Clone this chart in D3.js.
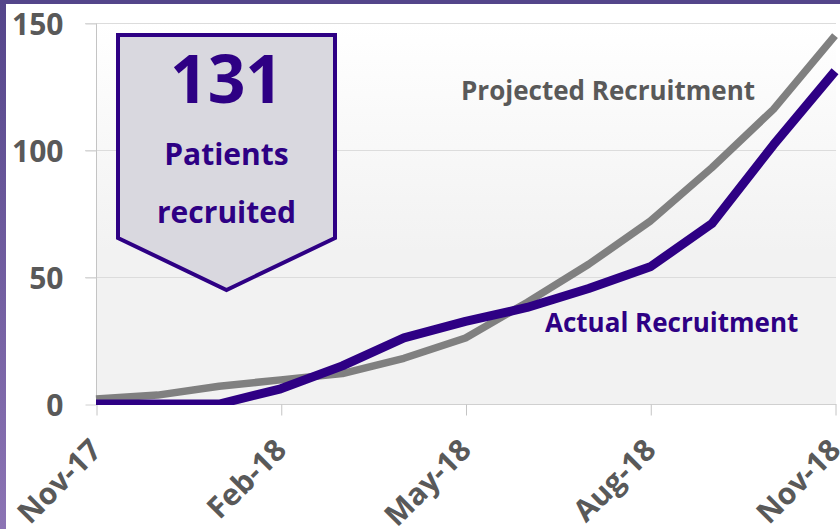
<!DOCTYPE html>
<html>
<head>
<meta charset="utf-8">
<script src="https://cdn.jsdelivr.net/npm/d3@7"></script>
<style>
  html, body { margin: 0; padding: 0; background: #fff; }
  svg { display: block; }
  text { font-family: "Open Sans", Lato, sans-serif; font-weight: bold; }
</style>
</head>
<body>
<svg id="chart" width="840" height="529"></svg>
<script>
const months = ["Nov-17","Dec-17","Jan-18","Feb-18","Mar-18","Apr-18","May-18","Jun-18","Jul-18","Aug-18","Sep-18","Oct-18","Nov-18"];
const projected = [2, 3.5, 7, 9.5, 12, 18, 26, 40, 55, 72, 93, 116, 145];
const actual = [0, 0, 0, 6, 15, 26, 32.5, 38, 45.5, 54, 71, 102, 131];
const xTickLabels = ["Nov-17","Feb-18","May-18","Aug-18","Nov-18"];
const yTicks = [0, 50, 100, 150];
const badgeNumber = "131";
const badgeLines = ["Patients", "recruited"];

const svg = d3.select("#chart");
const W = 840, H = 529;
const pLeft = 96, pRight = 835, pTop = 23, pBottom = 404;
const FONT = '"Open Sans", Lato, sans-serif';

const defs = svg.append("defs");
const fg = defs.append("linearGradient").attr("id","frame").attr("x1",0).attr("y1",0).attr("x2",0).attr("y2",1);
fg.append("stop").attr("offset","0%").attr("stop-color","#54458a");
fg.append("stop").attr("offset","100%").attr("stop-color","#8c74b4");
const pg = defs.append("linearGradient").attr("id","plotbg").attr("x1",0).attr("y1",0).attr("x2",0).attr("y2",1);
pg.append("stop").attr("offset","0%").attr("stop-color","#ffffff");
pg.append("stop").attr("offset","60%").attr("stop-color","#f2f2f2");
pg.append("stop").attr("offset","100%").attr("stop-color","#f2f2f2");
defs.append("clipPath").attr("id","clip").append("rect")
  .attr("x", pLeft - 10).attr("y", 0).attr("width", pRight - pLeft + 20).attr("height", pBottom + 1);

// frame
svg.append("rect").attr("x",0).attr("y",0).attr("width",W).attr("height",H).attr("fill","#fff");
svg.append("rect").attr("x",0).attr("y",0).attr("width",6).attr("height",H).attr("fill","url(#frame)");
svg.append("rect").attr("x",0).attr("y",0).attr("width",W).attr("height",4).attr("fill","#54458a");

const x = d3.scalePoint().domain(months).range([pLeft, pRight]);
const y = d3.scaleLinear().domain([0, 150]).range([pBottom, pTop]);

// plot background
svg.append("rect").attr("x", pLeft).attr("y", pTop).attr("width", pRight - pLeft + 1).attr("height", pBottom - pTop)
  .attr("fill", "url(#plotbg)");

// gridlines
svg.append("g").selectAll("line").data(yTicks.filter(d => d > 0)).join("line")
  .attr("x1", pLeft - 11).attr("x2", pRight + 1)
  .attr("y1", d => y(d) + 0.5).attr("y2", d => y(d) + 0.5)
  .attr("stroke", "#dcdcdc").attr("stroke-width", 1);

// y axis
const yAxis = d3.axisLeft(y).tickValues(yTicks).tickSize(11).tickPadding(22).tickFormat(d3.format("d"));
const gy = svg.append("g").attr("transform", `translate(${pLeft + 0.5},0.5)`).call(yAxis);
gy.select(".domain").attr("stroke", "#c4c4c4").attr("d", `M0,${pTop}V${pBottom}`);
gy.selectAll(".tick line").attr("stroke", "#d0d0d0");
gy.selectAll(".tick text").attr("fill", "#595959").style("font-size", "30px")
  .style("font-family", FONT).style("font-weight", "bold").attr("dy", "0.36em");

// x axis
const xAxis = d3.axisBottom(x).tickValues(xTickLabels).tickSize(11).tickSizeOuter(0);
const gx = svg.append("g").attr("transform", `translate(0.5,${pBottom + 0.5})`).call(xAxis);
gx.select(".domain").attr("stroke", "#d0d0d0").attr("d", `M${pLeft},0H${pRight + 1}`);
gx.selectAll(".tick line").attr("stroke", "#c4c4c4");
gx.selectAll(".tick text").attr("fill", "#595959").style("font-size", "30px")
  .style("font-family", FONT).style("font-weight", "bold")
  .attr("text-anchor", "end").attr("y", 0).attr("dy", "0.35em")
  .attr("transform", "translate(-1,40) rotate(-45)");

// lines
const line = d3.line().x((d, i) => x(months[i])).y(d => y(d));
const gl = svg.append("g").attr("clip-path", "url(#clip)");
gl.append("path").datum(projected).attr("d", line).attr("fill", "none")
  .attr("stroke", "#808080").attr("stroke-width", 7.5).attr("stroke-linejoin", "round");
gl.append("path").datum(actual).attr("d", line).attr("fill", "none")
  .attr("stroke", "#2e0084").attr("stroke-width", 9).attr("stroke-linejoin", "round");

// series labels
svg.append("text").attr("x", 461).attr("y", 100).attr("fill", "#595959")
  .style("font-size", "26px").text("Projected Recruitment");
svg.append("text").attr("x", 545).attr("y", 332).attr("fill", "#2e0084")
  .style("font-size", "26px").text("Actual Recruitment");

// badge
const bx0 = 118, bx1 = 335, by0 = 35, bySide = 238, tipY = 290, cx = (bx0 + bx1) / 2;
svg.append("path")
  .attr("d", `M${bx0},${by0}H${bx1}V${bySide}L${cx},${tipY}L${bx0},${bySide}Z`)
  .attr("fill", "#d9d8df").attr("stroke", "#2e0084").attr("stroke-width", 4).attr("stroke-linejoin", "miter");
svg.append("text").attr("x", cx).attr("y", 103).attr("text-anchor", "middle").attr("fill", "#2e0084")
  .style("font-size", "66px").text(badgeNumber);
svg.append("text").attr("x", cx).attr("y", 165).attr("text-anchor", "middle").attr("fill", "#2e0084")
  .style("font-size", "30px").text(badgeLines[0]);
svg.append("text").attr("x", cx).attr("y", 223).attr("text-anchor", "middle").attr("fill", "#2e0084")
  .style("font-size", "30px").text(badgeLines[1]);
</script>
</body>
</html>
